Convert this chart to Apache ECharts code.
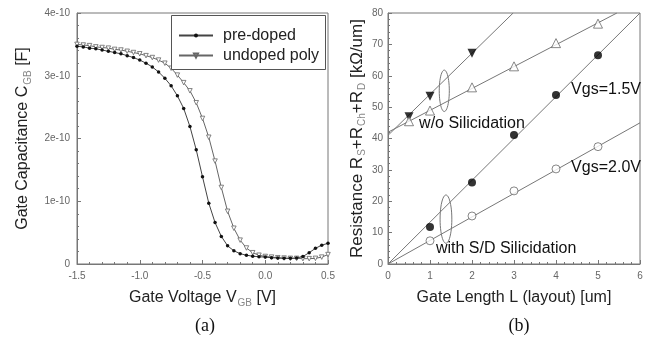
<!DOCTYPE html>
<html><head><meta charset="utf-8">
<script src="https://cdn.jsdelivr.net/npm/echarts@6/dist/echarts.min.js"></script>
<style>html,body{margin:0;padding:0;background:#fff}#c{width:649px;height:343px}</style>
</head><body><div id="c"></div>
<script>
// ---------- Panel (a): C-V data (values in units of 1e-10 F) ----------
const vgb = [-1.5,-1.45,-1.4,-1.35,-1.3,-1.25,-1.2,-1.15,-1.1,-1.05,-1.0,-0.95,-0.9,-0.85,-0.8,-0.75,-0.7,-0.65,-0.6,-0.55,-0.5,-0.45,-0.4,-0.35,-0.3,-0.25,-0.2,-0.15,-0.1,-0.05,0,0.05,0.1,0.15,0.2,0.25,0.3,0.35,0.4,0.45,0.5];
const cPreDoped = [3.47,3.46,3.44,3.43,3.41,3.39,3.37,3.35,3.32,3.29,3.25,3.20,3.14,3.06,2.96,2.84,2.68,2.48,2.19,1.82,1.39,0.97,0.66,0.44,0.29,0.21,0.165,0.14,0.125,0.115,0.11,0.10,0.095,0.09,0.09,0.095,0.12,0.18,0.25,0.30,0.33];
const cUndoped = [3.50,3.49,3.48,3.46,3.45,3.44,3.42,3.41,3.39,3.37,3.35,3.32,3.29,3.25,3.20,3.12,3.01,2.89,2.76,2.57,2.32,2.02,1.64,1.22,0.84,0.57,0.38,0.255,0.18,0.14,0.12,0.11,0.10,0.095,0.09,0.09,0.085,0.085,0.09,0.11,0.15];
const seriesNamesA = ['pre-doped','undoped poly'];
const yTickLabelsA = {0:'0',1:'1e-10',2:'2e-10',3:'3e-10',4:'4e-10'};

// ---------- Panel (b): resistance vs gate length ----------
const lenWo15 = [0.5,1,2];           const resWo15 = [46.9,53.5,67.2];
const lenWo20 = [0.5,1,2,3,4,5];     const resWo20 = [45.5,48.9,56.3,63.0,70.4,76.6];
const lenSil15 = [1,2,3,4,5];        const resSil15 = [11.8,26.0,41.1,53.9,66.5];
const lenSil20 = [1,2,3,4,5];        const resSil20 = [7.4,15.3,23.3,30.3,37.4];
// fitted straight lines (end points)
const fitWo15 = [[0,41.0],[2.98,80]];
const fitWo20 = [[0,42.0],[5.45,80]];
const fitSil15 = [[0,0],[6,80]];
const fitSil20 = [[0,0],[6,45]];
// annotations
const annoText = ['w/o Silicidation','Vgs=1.5V','Vgs=2.0V','with S/D Silicidation'];
const annoAt = [[0.74,44.9],[4.36,55.5],[4.36,30.6],[1.14,4.8]];
const ellipses = [[1.34,55.2,0.12,6.6],[1.38,14.3,0.14,7.7]];

const FONT = 'Liberation Sans, Arial, sans-serif';
const AX = '#777';
const tickLabel = {color:'#666', fontSize:10, fontFamily:FONT};
function nameStyle(size){
  return {color:'#222', fontSize:size, fontFamily:FONT,
    rich:{sub:{fontSize:10, color:'#888', fontFamily:FONT, verticalAlign:'top', lineHeight:10, padding:[8,0,0,1]}}};
}

function axisCommon(){
  return {
    axisLine:{show:true, onZero:false, lineStyle:{color:AX, width:1}},
    axisTick:{show:true, inside:true, length:4, lineStyle:{color:AX}},
    minorTick:{show:true, splitNumber:5, length:2, lineStyle:{color:AX}},
    splitLine:{show:false}, minorSplitLine:{show:false},
    nameLocation:'middle'
  };
}
function legendRow(name, top){
  return {data:[name], orient:'vertical', left:178, top:top, padding:0,
    itemWidth:34, itemHeight:5, z:8,
    textStyle:{fontSize:16, color:'#222', fontFamily:FONT, padding:[0,0,0,5]}};
}

const chart = echarts.init(document.getElementById('c'), null, {renderer:'canvas'});
const option = {
  animation:false,
  backgroundColor:'#fff',
  title:[
    {text:'(a)', left:200, top:312, textAlign:'center', textStyle:{fontFamily:'Liberation Serif, serif', fontSize:18, fontWeight:'normal', color:'#111'}},
    {text:'(b)', left:514, top:312, textAlign:'center', textStyle:{fontFamily:'Liberation Serif, serif', fontSize:18, fontWeight:'normal', color:'#111'}}
  ],
  graphic:[{type:'rect', left:171, top:15, z:7, silent:true,
    shape:{width:154, height:54}, style:{fill:'#fff', stroke:'#555', lineWidth:1}}],
  grid:[
    {left:77, right:321, top:13, bottom:79, show:true, borderColor:AX, borderWidth:1, backgroundColor:'transparent'},
    {left:388, right:9, top:13, bottom:79, show:true, borderColor:AX, borderWidth:1, backgroundColor:'transparent'}
  ],
  legend:[legendRow(seriesNamesA[0], 27.5), legendRow(seriesNamesA[1], 47.5)],
  xAxis:[
    Object.assign(axisCommon(), {gridIndex:0, type:'value', min:-1.5, max:0.5, interval:0.5,
      axisLabel:Object.assign({margin:7, formatter:v=>v.toFixed(1)}, tickLabel),
      name:'Gate Voltage V{sub|GB} [V]', nameGap:26, nameTextStyle:nameStyle(16)}),
    Object.assign(axisCommon(), {gridIndex:1, type:'value', min:0, max:6, interval:1,
      axisLabel:Object.assign({margin:7}, tickLabel),
      name:'Gate Length L (layout) [um]', nameGap:26, nameTextStyle:nameStyle(16)})
  ],
  yAxis:[
    Object.assign(axisCommon(), {gridIndex:0, type:'value', min:0, max:4, interval:1,
      axisLabel:Object.assign({margin:7, formatter:v=>yTickLabelsA[v]}, tickLabel),
      name:'Gate Capacitance C{sub|GB} [F]', nameGap:46, nameTextStyle:nameStyle(16)}),
    Object.assign(axisCommon(), {gridIndex:1, type:'value', min:0, max:80, interval:10,
      axisLabel:Object.assign({margin:5}, tickLabel),
      name:'Resistance R{sub|S}+R{sub|Ch}+R{sub|D} [kΩ/um]', nameGap:22, nameTextStyle:nameStyle(17)})
  ],
  series:[
    {type:'line', name:seriesNamesA[0], xAxisIndex:0, yAxisIndex:0,
     data:vgb.map((x,i)=>[x,cPreDoped[i]]), symbol:'circle', symbolSize:3.5, showSymbol:true, showAllSymbol:true,
     lineStyle:{color:'#444', width:1}, itemStyle:{color:'#111'}, z:3},
    {type:'line', name:seriesNamesA[1], xAxisIndex:0, yAxisIndex:0,
     data:vgb.map((x,i)=>[x,cUndoped[i]]), symbol:'triangle', symbolRotate:180, symbolSize:4.5, showSymbol:true, showAllSymbol:true,
     lineStyle:{color:'#666', width:1}, itemStyle:{color:'#fff', borderColor:'#666', borderWidth:0.8}, z:2},
    // fitted lines
    ...[fitWo15, fitWo20, fitSil15, fitSil20].map(f=>({type:'line', xAxisIndex:1, yAxisIndex:1, data:f, symbol:'none',
      lineStyle:{color:'#777', width:1}, clip:true, silent:true, z:2})),
    // markers
    {type:'scatter', xAxisIndex:1, yAxisIndex:1, data:lenWo15.map((x,i)=>[x,resWo15[i]]), symbol:'triangle', symbolRotate:180, symbolSize:9, itemStyle:{color:'#000'}, z:4},
    {type:'scatter', xAxisIndex:1, yAxisIndex:1, data:lenWo20.map((x,i)=>[x,resWo20[i]]), symbol:'triangle', symbolSize:9, itemStyle:{color:'#fff', borderColor:'#444', borderWidth:0.8}, z:4},
    {type:'scatter', xAxisIndex:1, yAxisIndex:1, data:lenSil15.map((x,i)=>[x,resSil15[i]]), symbol:'circle', symbolSize:8, itemStyle:{color:'#000'}, z:4},
    {type:'scatter', xAxisIndex:1, yAxisIndex:1, data:lenSil20.map((x,i)=>[x,resSil20[i]]), symbol:'circle', symbolSize:8, itemStyle:{color:'#fff', borderColor:'#444', borderWidth:0.8}, z:4},
    // ellipses
    {type:'custom', xAxisIndex:1, yAxisIndex:1, data:ellipses, silent:true, z:3,
     renderItem:(params, api)=>{
       const c = api.coord([api.value(0), api.value(1)]);
       const s = api.size([api.value(2), api.value(3)]);
       const pts = [];
       for(let k=0;k<48;k++){const t=k/48*Math.PI*2; pts.push([c[0]+s[0]*Math.cos(t), c[1]+s[1]*Math.sin(t)]);}
       return {type:'polygon', shape:{points:pts}, style:{fill:'none', stroke:'#777', lineWidth:1}};
     }},
    // annotation texts
    {type:'custom', xAxisIndex:1, yAxisIndex:1, data:annoAt.map((p,i)=>[p[0],p[1],i]), silent:true, z:5, clip:false,
     renderItem:(params, api)=>{
       const c = api.coord([api.value(0), api.value(1)]);
       return {type:'text', x:c[0], y:c[1], style:{text:annoText[api.value(2)], fill:'#111', fontSize:16, fontFamily:FONT, align:'left', verticalAlign:'middle'}};
     }}
  ]
};
chart.setOption(option);
</script>
</body></html>
